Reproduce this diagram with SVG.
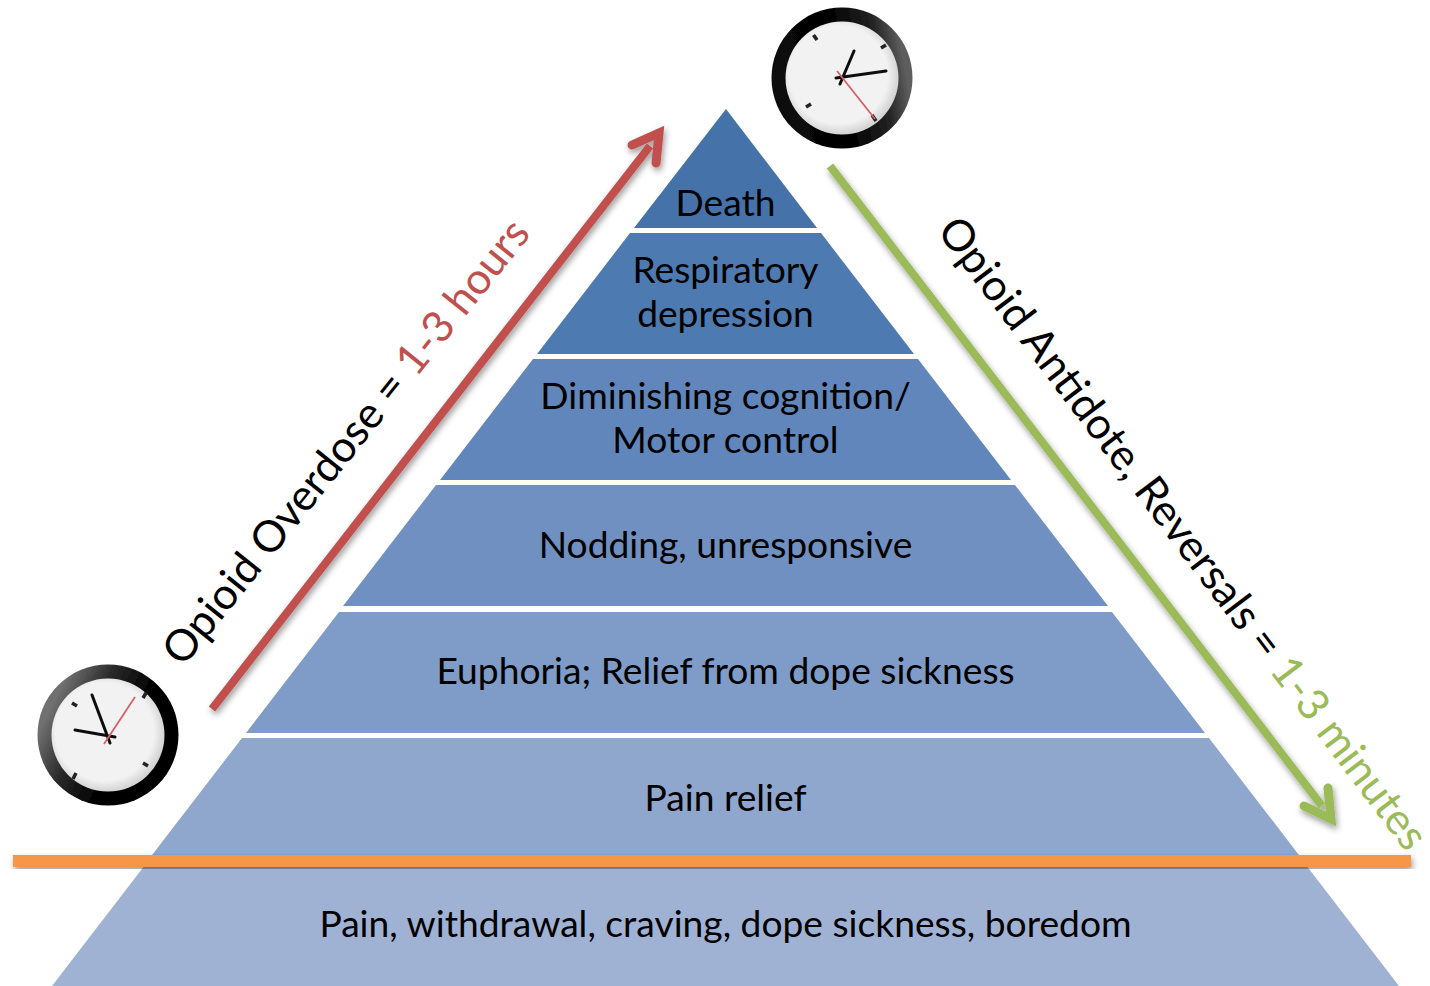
<svg xmlns="http://www.w3.org/2000/svg" width="1430" height="986" viewBox="0 0 1430 986">
<style>
text{font-family:Lato,"Liberation Sans",sans-serif;font-size:37.2px;fill:#000;text-anchor:middle}
.rotl{text-anchor:start;font-size:43.4px}
.rotr{text-anchor:start;font-size:43.4px}
.tick{stroke:#222;stroke-width:3.500;fill:none}
.hand{stroke:#111;stroke-width:3;stroke-linecap:round;fill:none}
.red{stroke:#d9606a;stroke-width:1.800;fill:none}
</style>
<defs>
<radialGradient id="face" cx="0.47" cy="0.47" r="0.53"><stop offset="0.82" stop-color="#f2f2f3"/><stop offset="1" stop-color="#d4d4d4"/></radialGradient>
<linearGradient id="rimA" x1="0.95" y1="0.45" x2="0.1" y2="0.6"><stop offset="0" stop-color="#5d5d5d"/><stop offset="0.2" stop-color="#222"/><stop offset="0.55" stop-color="#000"/><stop offset="1" stop-color="#0a0a0a"/></linearGradient>
<linearGradient id="rimB" x1="0.05" y1="0.4" x2="0.85" y2="0.8"><stop offset="0" stop-color="#6f6f6f"/><stop offset="0.3" stop-color="#2a2a2a"/><stop offset="0.65" stop-color="#000"/><stop offset="1" stop-color="#000"/></linearGradient>
<filter id="sh" x="-10%" y="-10%" width="125%" height="125%"><feDropShadow dx="1.500" dy="3.500" stdDeviation="3" flood-color="#000" flood-opacity="0.4"/></filter>
<filter id="soft" x="-10%" y="-10%" width="120%" height="120%"><feGaussianBlur stdDeviation="0.6"/></filter>
</defs>

<g id="layer-death"><polygon points="726,109 817,228 634,228" fill="#4573a9"/><text x="725.500" y="216">Death</text></g>
<g id="layer-respiratory"><polygon points="630,233 821,233 914,354 537,354" fill="#4e7ab2"/><text x="725.500" y="283">Respiratory</text><text x="725.500" y="327">depression</text></g>
<g id="layer-cognition"><polygon points="533,359 918,359 1011,480 440,480" fill="#6186bb"/><text x="725.500" y="409">Diminishing cognition/</text><text x="725.500" y="453">Motor control</text></g>
<g id="layer-nodding"><polygon points="436,485 1015,485 1108,606 343,606" fill="#6f90c0"/><text x="725.500" y="558">Nodding, unresponsive</text></g>
<g id="layer-euphoria"><polygon points="339,612 1112,612 1205,733 246,733" fill="#7f9bc7"/><text x="725.500" y="684">Euphoria; Relief from dope sickness</text></g>
<g id="layer-pain-relief"><polygon points="242,738 1209,738 1302,859 149,859" fill="#8fa6cd"/><text x="725.500" y="811">Pain relief</text></g>
<g id="layer-base"><polygon points="145,865 1306,865 1399,986 52,986" fill="#a0b2d4"/><text x="725.500" y="937">Pain, withdrawal, craving, dope sickness, boredom</text></g>

<g id="connectors" fill="none">
<g id="baseline" filter="url(#sh)"><rect x="13" y="855" width="1398" height="12" fill="#f79646"/></g>
<g id="arrow-overdose" filter="url(#sh)" stroke="#c0504d"><path d="M212 709L650 146" stroke-width="8"/><path d="M632 145L659 133L656 163" stroke-width="9" stroke-linecap="round"/></g>
<g id="arrow-reversal" filter="url(#sh)" stroke="#9bbb59"><path d="M830 166L1322 806" stroke-width="8"/><path d="M1304 806L1331 819L1328 788" stroke-width="9" stroke-linecap="round"/></g>
</g>

<g id="label-overdose"><text class="rotl" transform="translate(183,668) rotate(-51.200)">Opioid Overdose = <tspan fill="#c0504d">1-3 hours</tspan></text></g>
<g id="label-reversal"><text class="rotr" transform="translate(936,231) rotate(52.900)">Opioid Antidote, Reversals = <tspan fill="#9bbb59">1-3 minutes</tspan></text></g>

<g id="clock-top" transform="translate(842,78)" filter="url(#soft)">
<circle r="70.500" fill="url(#rimA)"/><circle r="56.500" fill="url(#face)"/>
<path class="tick" d="M-28.500 -43L-25 -38M39 -30L44 -33M-36 29L-31 26M30 37L34 43"/>
<path class="hand" d="M-2 6L12 -27M-6 0L44 -7"/><path class="red" d="M-5 -7L33 41"/>
</g>
<g id="clock-left" transform="translate(108,735)" filter="url(#soft)">
<circle r="70.500" fill="url(#rimB)"/><circle r="56.500" fill="url(#face)"/>
<path class="tick" d="M-36 -32L-31 -29M38 -42L35 -37M35 28L40 31M-32 38L-35 44"/>
<path class="hand" d="M2 8L-16 -40M7 2L-33 -5"/><path class="red" d="M-4 9L27 -38"/>
</g>
</svg>
